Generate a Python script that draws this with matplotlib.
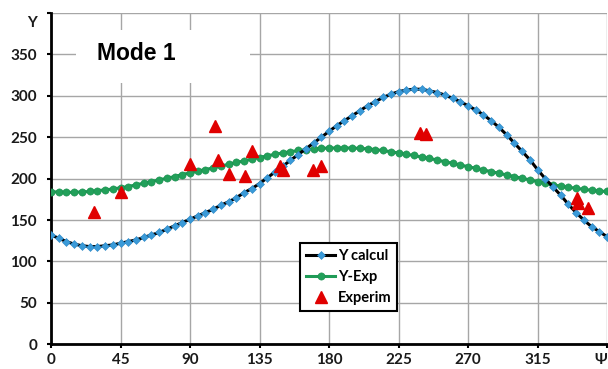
import matplotlib
matplotlib.use('Agg')
from matplotlib import pyplot as plt
from matplotlib.patches import Rectangle

plt.rcParams['font.family'] = ['Lato', 'DejaVu Sans']
plt.rcParams['font.weight'] = 'bold'

# angle psi (deg), sampled every 5 deg
psi = list(range(0, 361, 5))

y_calcul = [132, 128, 124, 121, 119, 118, 118, 119, 120, 122,
            124, 126, 129, 132, 135, 139, 143, 147, 151, 155,
            159, 163, 168, 172, 177, 183, 188, 194, 201, 208,
            215, 222, 229, 236, 243, 250, 257, 264, 270, 276,
            282, 288, 293, 298, 302, 305, 307, 308, 308, 306,
            304, 301, 297, 293, 288, 283, 277, 270, 262, 253,
            243, 233, 223, 211, 200, 190, 180, 169, 159, 150,
            142, 136, 130]

y_exp = [184, 184, 183.5, 183.5, 184, 184.5, 185.5, 186.5, 187.5, 189,
         190.5, 192.5, 194.5, 196.5, 198.5, 200.5, 202.5, 205, 207, 209,
         211, 213, 215, 217.5, 219.5, 221.5, 223.5, 225.5, 227.5, 229.5,
         231, 232.5, 234, 235, 236, 236.5, 237, 237, 237, 237,
         236.5, 236, 235, 234, 232.5, 231, 229.5, 228, 226, 224.5,
         222.5, 220.5, 218.5, 216.5, 214.5, 212.5, 210.5, 208.5, 206.5, 204.5,
         202.5, 200.5, 198.5, 196.5, 194.5, 192.5, 191, 189.5, 188.5, 187,
         186, 185, 184.5]

exp_psi = [28, 45, 90, 106.5, 108, 115, 125.5, 130, 148, 150, 169.5, 174.5,
           239, 242.5, 340.5, 341.5, 348]
exp_y = [160, 184, 218, 263, 222, 206, 203, 233, 215, 211, 210, 215,
         255, 254, 177, 170, 164]

x_ticks = [0, 45, 90, 135, 180, 225, 270, 315, 360]
x_labels = ['0', '45', '90', '135', '180', '225', '270', '315', 'Ψ']
y_ticks = [0, 50, 100, 150, 200, 250, 300, 350, 400]
y_labels = ['0', '50', '100', '150', '200', '250', '300', '350', '']

fig = plt.figure(figsize=(6.08, 3.69), dpi=100)
ax = fig.add_axes([51 / 608, 24.7 / 369, 556 / 608, 331.3 / 369])

ax.plot(psi, y_exp, color='#1f9b57', lw=2.2, marker='o', ms=5.2,
        mfc='#22a05a', mec='#1a8f4f', mew=0.4, label='Y-Exp', zorder=3)
ax.plot(psi, y_calcul, color='black', lw=2.2, marker='D', ms=4.2,
        mfc='#3a9ad8', mec='#2a86c4', mew=0.4, label='Y calcul', zorder=4)
ax.plot(exp_psi, exp_y, ls='none', marker='^', ms=8, color='#e00000',
        label='Experim', zorder=5)

ax.set_xlim(0, 360)
ax.set_ylim(0, 400)
ax.set_xticks(x_ticks)
ax.set_xticklabels(x_labels)
ax.set_yticks(y_ticks)
ax.set_yticklabels(y_labels)
ax.grid(True, color='#a6a6a6', lw=1)
ax.set_axisbelow(True)
for s in ['top', 'right']:
  ax.spines[s].set_visible(False)
for s in ['left', 'bottom']:
  ax.spines[s].set_linewidth(2)
  ax.spines[s].set_color('black')
ax.tick_params(axis='both', length=3, width=1.5, direction='out',
               labelsize=11, colors='black', labelcolor='#1a1a1a')
ax.tick_params(axis='y', pad=7)
ax.tick_params(axis='x', pad=3)
ax.get_xticklabels()[-1].set_horizontalalignment('right')

ax.annotate('Y', xy=(0, 400), xycoords=('axes fraction', 'data'),
            xytext=(-10, -7), textcoords='offset points', ha='right',
            va='center', fontsize=11, fontweight='bold', color='#1a1a1a')

# white box behind title
ax.add_patch(Rectangle((0.045, 0.789), 0.313, 0.16, transform=ax.transAxes,
                       facecolor='white', edgecolor='none', zorder=2))
ax.text(0.083, 0.878, 'Mode 1', transform=ax.transAxes, fontsize=16.5,
        fontweight='bold', family=['Liberation Sans', 'DejaVu Sans'],
        ha='left', va='center', zorder=6)

handles, labels = ax.get_legend_handles_labels()
order = [1, 0, 2]
leg = ax.legend([handles[i] for i in order], [labels[i] for i in order],
                loc='lower left', bbox_to_anchor=(0.448, 0.10), fontsize=10.5,
                frameon=True, fancybox=False, framealpha=1, edgecolor='black',
                handlelength=2.0, handletextpad=0.2, labelspacing=0.5,
                borderpad=0.4, borderaxespad=0)
leg.get_frame().set_linewidth(1.5)
for t in leg.get_texts():
  t.set_fontweight('bold')

fig.savefig('out.png', dpi=100)
